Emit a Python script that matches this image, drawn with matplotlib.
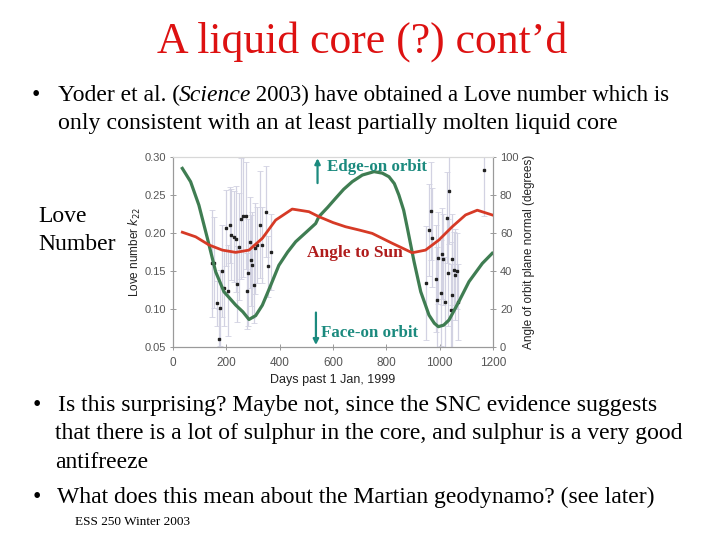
import matplotlib.pyplot as plt

# green curve: angle of orbit plane normal (degrees, right axis)
green_days = [35, 66, 97, 129, 160, 191, 235, 262, 285, 310, 335, 365, 397, 430, 460, 500,
              535, 547, 580, 610, 640, 672, 710, 754, 785, 810, 830, 847, 865, 879, 904,
              929, 960, 980, 995, 1015, 1035, 1072, 1110, 1160, 1197]
green_deg = [94, 87, 74.7, 57.2, 39.6, 29.1, 22.1, 18.5, 14.5, 16.5, 22, 32, 43, 50, 55.4, 60.5,
             65, 68.6, 73.5, 78.3, 83, 87, 90.5, 92.3, 91.5, 89.6, 86, 80, 72, 62.5, 44.9,
             29.1, 16.8, 12.5, 10.7, 11.5, 14.2, 23.9, 34.4, 44, 49.3]

# red curve: angle to Sun (degrees, right axis)
red_days = [35, 85, 135, 185, 235, 285, 335, 385, 447, 510, 547, 600, 647, 700, 747, 822,
            897, 947, 997, 1047, 1097, 1141, 1197]
red_deg = [60.4, 58, 53.7, 51, 49.8, 51, 57.2, 66.8, 72.6, 71.2, 68.6, 65.5, 63.3, 61.5, 59.8,
           54.6, 49.6, 51, 56.3, 63.3, 69.5, 72, 69.5]

# Love number k22 estimates with error bars (left axis)
k_days = [147, 152, 165, 171, 178, 184, 191, 197, 207, 212, 218, 229, 235, 241, 247, 254,
          262, 272, 279, 282, 287, 291, 295, 304, 307, 316, 325, 335, 347, 357, 366,
          950, 960, 966, 972, 985, 991, 995, 1004, 1008, 1014, 1020, 1026, 1032, 1035,
          1041, 1045, 1047, 1054, 1057, 1066, 1070, 1166]
k_vals = [0.160, 0.161, 0.1075, 0.060, 0.101, 0.150, 0.127, 0.206, 0.124, 0.2105, 0.198,
          0.195, 0.192, 0.1325, 0.182, 0.219, 0.222, 0.223, 0.124, 0.148, 0.188, 0.164,
          0.158, 0.132, 0.180, 0.184, 0.211, 0.184, 0.228, 0.156, 0.1746,
          0.1346, 0.204, 0.229, 0.194, 0.140, 0.112, 0.167, 0.121, 0.173, 0.1654, 0.109,
          0.220, 0.148, 0.2557, 0.0987, 0.118, 0.1654, 0.151, 0.145, 0.150, 0.109, 0.283]
k_err = [0.07, 0.06, 0.03, 0.04, 0.05, 0.06, 0.05, 0.05, 0.06, 0.05, 0.06,
         0.06, 0.07, 0.05, 0.07, 0.08, 0.08, 0.07, 0.05, 0.07, 0.06, 0.06,
         0.07, 0.05, 0.06, 0.05, 0.07, 0.05, 0.06, 0.04, 0.05,
         0.075, 0.06, 0.065, 0.065, 0.07, 0.07, 0.06, 0.07, 0.06, 0.06, 0.06,
         0.06, 0.07, 0.07, 0.06, 0.07, 0.06, 0.05, 0.06, 0.05, 0.05, 0.06]

serif = ['Liberation Serif', 'DejaVu Serif']
sans = ['Liberation Sans', 'DejaVu Sans']
teal = '#1b8a7e'

fig = plt.figure(figsize=(7.2, 5.4), dpi=100)
W, H = 720, 540


def px(x, y):
    return x / W, 1 - y / H


# slide text
fig.text(*px(362, 42), 'A liquid core (?) cont\u2019d', family=serif, size=31.5,
         color='#dd1111', ha='center', va='center')

fig.text(*px(32, 95), '\u2022', family=serif, size=17, va='center')
base1 = 1 - 101 / H
t1 = fig.text(58 / W, base1, 'Yoder et al. (', family=serif, size=17, va='baseline')
fig.canvas.draw()
r = fig.canvas.get_renderer()
bb = t1.get_window_extent(r)
t2 = fig.text((bb.x1 - 1) / W, base1, 'Science', family=serif, size=17,
              style='italic', va='baseline')
bb = t2.get_window_extent(r)
fig.text((bb.x1 - 2) / W, base1, ' 2003) have obtained a Love number which is',
         family=serif, size=16.5, va='baseline')
fig.text(*px(58, 124), 'only consistent with an at least partially molten liquid core',
         family=serif, size=17.2, va='center')

fig.text(*px(38, 216), 'Love', family=serif, size=17, va='center')
fig.text(*px(38, 245), 'Number', family=serif, size=17, va='center')

lines = [
    (33, 58, 406, True, 'Is this surprising? Maybe not, since the SNC evidence suggests'),
    (33, 55, 434, False, 'that there is a lot of sulphur in the core, and sulphur is a very good'),
    (33, 55, 462, False, 'antifreeze'),
    (33, 57, 497, True, 'What does this mean about the Martian geodynamo? (see later)'),
]
for bx, tx, ty, bullet, s in lines:
    if bullet:
        fig.text(*px(bx, ty), '\u2022', family=serif, size=17, va='center')
    fig.text(*px(tx, ty), s, family=serif, size=17, va='center')

fig.text(*px(75, 522), 'ESS 250 Winter 2003', family=serif, size=9.5, va='center')

# chart
ax = fig.add_axes([173 / W, 1 - 347 / H, 320 / W, 190 / H])
ax2 = ax.twinx()

ax.errorbar(k_days, k_vals, yerr=k_err, fmt='s', ms=1.8, color='#222222',
            ecolor='#d2d2e2', elinewidth=0.9, capsize=2, capthick=0.6, zorder=2)
ax2.plot(green_days, green_deg, color='#3f7d52', lw=2.3, zorder=3)
ax2.plot(red_days, red_deg, color='#d63a26', lw=2.0, zorder=3)

ax.set_xlim(0, 1200)
ax.set_ylim(0.05, 0.30)
ax2.set_ylim(0, 100)
ax.set_xticks(range(0, 1201, 200))
ax.set_yticks([0.05, 0.10, 0.15, 0.20, 0.25, 0.30])
ax.set_yticklabels(['0.05', '0.10', '0.15', '0.20', '0.25', '0.30'])
ax2.set_yticks(range(0, 101, 20))

for a in (ax, ax2):
    for side in ('left', 'right', 'bottom'):
        a.spines[side].set_color('#9a9a9a')
    a.spines['top'].set_color('#d8d8d8')
    a.tick_params(direction='inout', length=4, width=0.7, color='#9a9a9a',
                  labelsize=8, labelcolor='#555555', pad=3)
ax.tick_params(axis='x', pad=5, labelsize=8.5)
for lab in ax.get_xticklabels() + ax.get_yticklabels() + ax2.get_yticklabels():
    lab.set_family(sans)

ax.set_xlabel('Days past 1 Jan, 1999', family=sans, size=9, color='#222222', labelpad=4)
ax.set_ylabel(r'Love number $k_{22}$', family=sans, size=8.5, color='#222222', labelpad=1)
ax2.set_ylabel('Angle of orbit plane normal (degrees)', family=sans, size=8.5,
               color='#222222', labelpad=3)

# annotations
ax.annotate('', xy=(542, 0.302), xytext=(542, 0.262), xycoords='data',
            arrowprops=dict(arrowstyle='-|>', color=teal, lw=1.6, mutation_scale=8),
            annotation_clip=False)
ax.annotate('', xy=(536, 0.049), xytext=(536, 0.099), xycoords='data',
            arrowprops=dict(arrowstyle='-|>', color=teal, lw=1.6, mutation_scale=8),
            annotation_clip=False)
fig.text(*px(327, 167), 'Edge-on orbit', family=serif, size=12.2, color=teal,
         weight='bold', va='center')
fig.text(*px(321, 333), 'Face-on orbit', family=serif, size=12.2, color=teal,
         weight='bold', va='center')
fig.text(*px(307, 253), 'Angle to Sun', family=serif, size=12.5, color='#b01c1c',
         weight='bold', va='center')

fig.savefig('out.png', dpi=100)
